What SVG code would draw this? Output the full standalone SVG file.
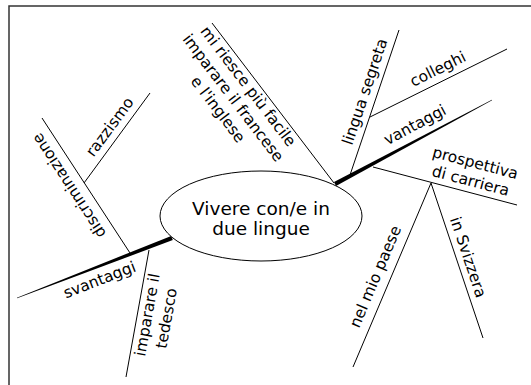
<svg xmlns="http://www.w3.org/2000/svg" width="531" height="385" viewBox="0 0 531 385">
<style>
  .ln { stroke: #000; stroke-width: 1; fill: none; }
  .lbl { font-family: "Comic Sans MS", "DejaVu Sans", sans-serif; font-size: 15.5px; fill: #000; text-anchor: middle; }
  .main { font-family: "Comic Sans MS", "DejaVu Sans", sans-serif; font-size: 18.5px; fill: #000; text-anchor: middle; }
</style>
<rect x="9" y="6" width="600" height="500" fill="#fff" stroke="#333" stroke-width="1.5"/>
<g id="connectors">
  <polygon points="336,185.9 334,182.1 491.9,99.7 492.1,100.3" fill="#000"/>
  <polygon points="172.8,240.1 171.2,235.9 16.9,297.7 17.1,298.3" fill="#000"/>
  <line class="ln" x1="212" y1="23" x2="334" y2="183"/>
  <line class="ln" x1="350" y1="175" x2="399" y2="30"/>
  <line class="ln" x1="370" y1="117" x2="507" y2="49"/>
  <line class="ln" x1="373" y1="167" x2="517" y2="205"/>
  <line class="ln" x1="431" y1="183" x2="353" y2="367"/>
  <line class="ln" x1="431" y1="183" x2="483" y2="338"/>
  <line class="ln" x1="42" y1="118" x2="130" y2="253"/>
  <line class="ln" x1="150" y1="93" x2="84" y2="183"/>
  <line class="ln" x1="149" y1="250" x2="126" y2="377"/>
</g>
<g id="center">
  <ellipse cx="261" cy="216" rx="101" ry="45" fill="#fff" stroke="#000" stroke-width="1"/>
  <text class="main" x="261" y="214.5">Vivere con/e in</text>
  <text class="main" x="261" y="235">due lingue</text>
</g>
<g id="vantaggi"><text class="lbl" transform="translate(417.4,129.5) rotate(-28.2)">vantaggi</text></g>
<g id="svantaggi"><text class="lbl" transform="translate(101.4,284.7) rotate(-21.2)">svantaggi</text></g>
<g id="lingua-segreta"><text class="lbl" transform="translate(369.8,93.3) rotate(-71.3)">lingua segreta</text></g>
<g id="colleghi"><text class="lbl" transform="translate(440.3,73.6) rotate(-26.4)">colleghi</text></g>
<g id="prospettiva"><g transform="translate(474,168) rotate(14.8)"><text class="lbl" x="0" y="0">prospettiva</text><text class="lbl" x="0" y="18.5">di carriera</text></g></g>
<g id="nel-mio-paese"><text class="lbl" transform="translate(380.2,278.6) rotate(-67)">nel mio paese</text></g>
<g id="in-svizzera"><text class="lbl" transform="translate(463.2,258.8) rotate(71.5)">in Svizzera</text></g>
<g id="mi-riesce"><g transform="translate(229,101) rotate(52.7)"><text class="lbl" x="0" y="-19">mi riesce più facile</text><text class="lbl" x="0" y="0">imparare il francese</text><text class="lbl" x="0" y="19">e l'inglese</text></g></g>
<g id="discriminazione"><text class="lbl" transform="translate(73.4,182.8) rotate(-123.1)">discriminazione</text></g>
<g id="razzismo"><text class="lbl" transform="translate(114,130) rotate(-53.7)">razzismo</text></g>
<g id="imparare-tedesco"><g transform="translate(152.4,315.7) rotate(-79.7)"><text class="lbl" x="0" y="0">imparare il</text><text class="lbl" x="0" y="19.5">tedesco</text></g></g>
</svg>
